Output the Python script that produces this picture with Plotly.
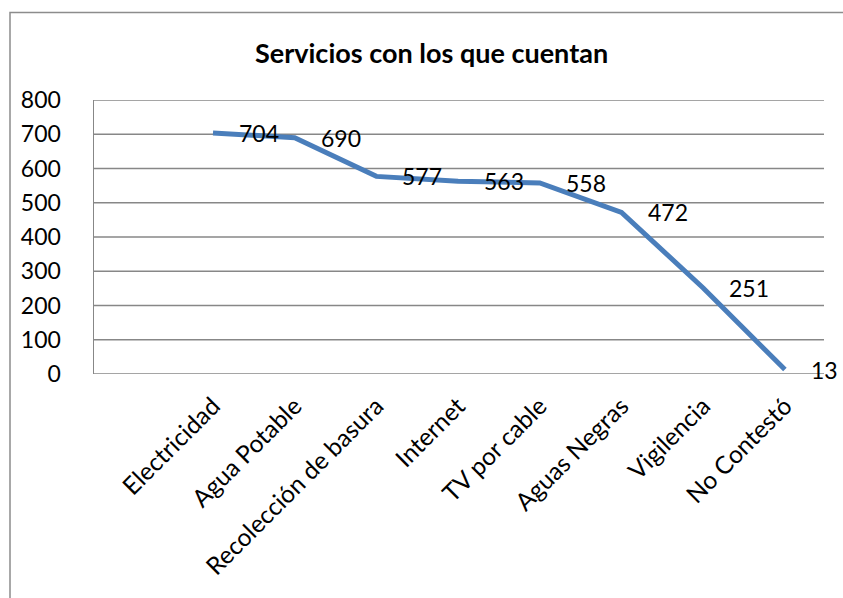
import plotly.graph_objects as go

categories = ["Electricidad", "Agua Potable", "Recolección de basura", "Internet",
              "TV por cable", "Aguas Negras", "Vigilencia", "No Contestó"]
values = [704, 690, 577, 563, 558, 472, 251, 13]
y_ticks = [0, 100, 200, 300, 400, 500, 600, 700, 800]
title_text = "Servicios con los que cuentan"

W, H = 843, 598
L, R, T, B = 94, 843 - 824, 100, 598 - 374
FONT = "Lato, 'Open Sans', sans-serif"
GRID = "#878787"
X0PX = 213     # pixel of first category
STEP = 81.7    # pixels per category

pw = W - L - R
ph = H - T - B
def px_x(p):
    return (p - L) / pw
def px_y(p):
    return (H - B - p) / ph

fig = go.Figure()
fig.add_trace(go.Scatter(
    x=list(range(len(categories))), y=values, mode="lines",
    line=dict(color="#4A7EBB", width=5), hoverinfo="skip", showlegend=False,
))

annotations = []
for i, v in enumerate(values):
    annotations.append(dict(
        x=i, y=v, xref="x", yref="y", text=str(v), showarrow=False,
        xanchor="left", yanchor="middle", xshift=24,
        font=dict(family=FONT, size=23, color="#000000"),
    ))
annotations.append(dict(
    x=px_x(431), y=px_y(53), xref="paper", yref="paper",
    text="<b>" + title_text + "</b>", showarrow=False, xanchor="center", yanchor="middle",
    font=dict(family=FONT, size=27, color="#000000"),
))

shapes = [dict(type="rect", xref="paper", yref="paper",
               x0=px_x(10), x1=px_x(W + 20), y0=px_y(H + 20), y1=px_y(12.5),
               line=dict(color="#8c8c8c", width=1.5), layer="below")]
# horizontal grid lines drawn through the y scale (edges included)
for v in y_ticks:
    shapes.append(dict(type="line", xref="paper", yref="y", x0=0, x1=1, y0=v, y1=v,
                       line=dict(color=GRID, width=1.5), layer="below"))

fig.update_layout(
    width=W, height=H,
    margin=dict(l=L, r=R, t=T, b=B, pad=0),
    paper_bgcolor="white", plot_bgcolor="white",
    annotations=annotations,
    shapes=shapes,
    hovermode=False,
    xaxis=dict(
        range=[(L - X0PX) / STEP, (L - X0PX) / STEP + pw / STEP],
        tickmode="array", tickvals=list(range(len(categories))), ticktext=categories,
        tickangle=-45, showgrid=False, zeroline=False,
        showline=False, ticks="", ticklabelstandoff=12,
        tickfont=dict(family=FONT, size=24.5, color="#000000"),
    ),
    yaxis=dict(
        range=[0, 800], tickmode="array", tickvals=y_ticks,
        showgrid=False, zeroline=False,
        showline=True, linecolor=GRID, linewidth=1.5,
        ticks="", ticklabelstandoff=27,
        tickfont=dict(family=FONT, size=23, color="#000000"),
    ),
)

fig.write_html(
    "out.html",
    config={"displayModeBar": False, "staticPlot": True},
    post_script="document.body.style.margin='0';document.body.style.overflow='hidden';",
)
